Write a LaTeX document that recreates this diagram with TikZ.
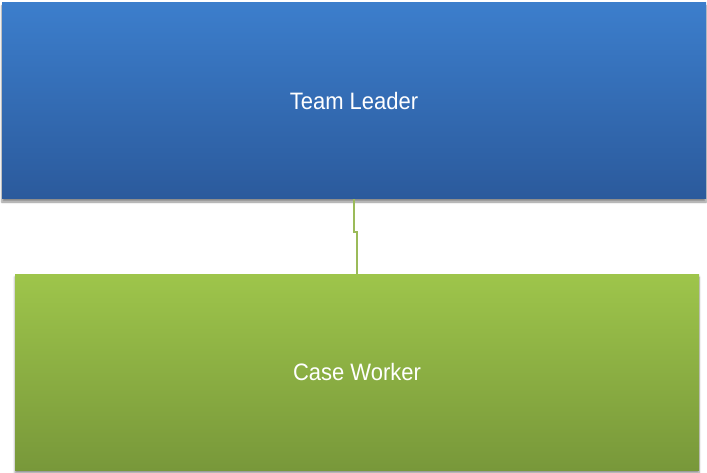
\documentclass[tikz,border=0pt]{standalone}
\usepackage{fontspec}
\setmainfont{Liberation Sans}
\usetikzlibrary{shadows.blur}
\definecolor{bluetop}{HTML}{3C7ECC}
\definecolor{bluebot}{HTML}{2B5A9C}
\definecolor{greentop}{HTML}{9EC54B}
\definecolor{greenbot}{HTML}{78983A}
\definecolor{linkgreen}{HTML}{9BBB59}
\tikzset{
  orgbox/.style={rectangle, inner sep=0pt, draw=none, text=white,
    font=\fontsize{22}{26}\selectfont,
    blur shadow={shadow xshift=0pt, shadow yshift=-3pt, shadow blur steps=6, shadow opacity=45}},
  bluebox/.style={orgbox, top color=bluetop, bottom color=bluebot,
    minimum width=704pt, minimum height=196pt},
  greenbox/.style={orgbox, top color=greentop, bottom color=greenbot,
    minimum width=684pt, minimum height=196pt},
  link/.style={draw=linkgreen, line width=2pt}
}
\begin{document}
\begin{tikzpicture}[x=1pt, y=-1pt]
\useasboundingbox (0,0) rectangle (707,473);
\node[bluebox] (tl) at (354,101) {\scalebox{1.0}[1.08]{Team Leader}};
\node[greenbox] (cw) at (357,372) {\scalebox{1.0}[1.08]{Case Worker}};
\draw[link] (tl.south) -- ++(0,33) -| (cw.north);
\end{tikzpicture}
\end{document}
